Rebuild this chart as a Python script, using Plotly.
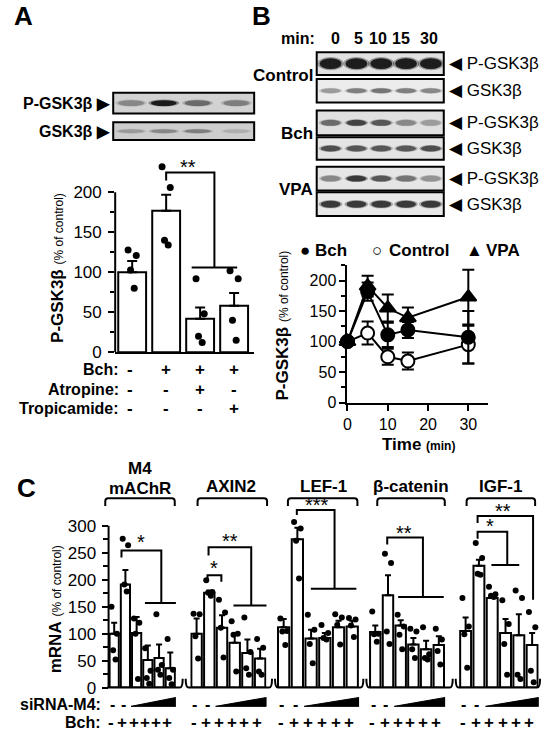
import plotly.graph_objects as go

W, H = 550, 742
FONT = "Arial, 'Liberation Sans', sans-serif"

# ---------------- panel A data
A_BCH = ["-", "+", "+", "+"]
A_ATROPINE = ["-", "-", "+", "-"]
A_TROPICAMIDE = ["-", "-", "-", "+"]
A_MEAN = [100, 177, 42, 58]
A_SEM = [14, 20, 14, 16]
A_DOTS = [[128, 121, 103, 80], [232, 206, 140, 134], [92, 48, 20, 12], [102, 92, 40, 15]]
A_BAND_P = [0.45, 1.0, 0.6, 0.5]
A_BAND_G = [0.35, 0.45, 0.5, 0.25]

# ---------------- panel B data
B_MINUTES = [0, 5, 10, 15, 30]
B_BCH = [100, 182, 111, 119, 107]
B_BCH_SEM = [0, 15, 20, 13, 43]
B_CTRL = [100, 114, 75, 68, 95]
B_CTRL_SEM = [0, 19, 13, 14, 31]
B_VPA = [100, 191, 155, 139, 173]
B_VPA_SEM = [0, 17, 22, 17, 45]
B_CTRL_P_BAND = [1.0, 1.0, 1.0, 1.0, 1.0]
B_CTRL_G_BAND = [0.35, 0.5, 0.55, 0.5, 0.45]
B_BCH_P_BAND = [0.6, 0.8, 0.7, 0.45, 0.35]
B_BCH_G_BAND = [0.75, 0.7, 0.7, 0.7, 0.75]
B_VPA_P_BAND = [0.45, 0.85, 0.7, 0.55, 0.4]
B_VPA_G_BAND = [0.85, 0.85, 0.85, 0.85, 0.85]

# ---------------- panel C data
C_GENES = ["M4<br>mAChR", "AXIN2", "LEF-1", "β-catenin", "IGF-1"]
C_SIRNA = ["-", "-"]
C_BCH = ["-", "+", "+", "+", "+", "+"]

M4_MEAN = [100, 191, 101, 51, 55, 36]
M4_SEM = [20, 27, 30, 27, 25, 29]
M4_DOTS = [[150, 100, 69, 52], [276, 264, 191, 178], [128, 120, 100, 16],
           [73, 31, 18, 7], [136, 42, 33, 24], [90, 33, 18, 6]]
AXIN2_MEAN = [100, 176, 111, 83, 64, 54]
AXIN2_SEM = [28, 4, 23, 16, 25, 18]
AXIN2_DOTS = [[137, 136, 95, 54], [199, 177, 176, 170], [163, 139, 111, 56],
              [123, 100, 98, 30], [130, 66, 36, 24], [90, 74, 30, 24]]
LEF1_MEAN = [112, 275, 91, 92, 112, 113]
LEF1_SEM = [15, 21, 16, 9, 12, 11]
LEF1_DOTS = [[128, 105, 104, 79], [307, 295, 272, 202], [135, 107, 81, 45],
             [116, 101, 92, 89], [136, 130, 116, 80], [129, 126, 115, 94]]
BCAT_MEAN = [103, 171, 115, 80, 71, 79]
BCAT_SEM = [12, 37, 10, 12, 16, 16]
BCAT_DOTS = [[141, 100, 99, 85], [248, 231, 104, 81], [135, 113, 98, 71],
             [109, 104, 71, 55], [112, 62, 55, 52], [109, 89, 68, 43]]
IGF1_MEAN = [105, 226, 166, 101, 97, 79]
IGF1_SEM = [25, 11, 5, 26, 39, 22]
IGF1_DOTS = [[166, 113, 99, 37], [268, 240, 211, 209], [187, 173, 170, 168],
              [162, 118, 81, 24], [180, 166, 24, 16], [140, 112, 31, 10]]

C_MEANS = [M4_MEAN, AXIN2_MEAN, LEF1_MEAN, BCAT_MEAN, IGF1_MEAN]
C_SEMS = [M4_SEM, AXIN2_SEM, LEF1_SEM, BCAT_SEM, IGF1_SEM]
C_DOTS = [M4_DOTS, AXIN2_DOTS, LEF1_DOTS, BCAT_DOTS, IGF1_DOTS]


def px(x):
    return x / W


def py(y):
    return 1 - y / H


def bold(t):
    return "<b>" + t + "</b>"


JITTER = [-0.2, 0.2, -0.08, 0.1]

fig = go.Figure()
shapes = []
notes = []


def note(text, x, y, size=16, xanchor="center", xref="paper", yref="paper", **kw):
    notes.append(dict(text=text, x=x, y=y, xref=xref, yref=yref, showarrow=False,
                      xanchor=xanchor, yanchor="middle", borderpad=0,
                      font=dict(family=FONT, size=size, color="black"), **kw))


def lines(segments, xa, ya):
    xs, ys = [], []
    for seg in segments:
        for p in seg:
            xs.append(p[0])
            ys.append(p[1])
        xs.append(None)
        ys.append(None)
    fig.add_trace(go.Scatter(x=xs, y=ys, mode="lines", xaxis=xa, yaxis=ya,
                             line=dict(color="black", width=2), cliponaxis=False,
                             hoverinfo="skip", showlegend=False))


def bars_with_dots(means, sems, dots, xa, ya, dot_size, cap, spread):
    n = len(means)
    fig.add_trace(go.Bar(x=list(range(n)), y=means, width=0.82, xaxis=xa, yaxis=ya,
                         marker=dict(color="white", line=dict(color="black", width=2)),
                         error_y=dict(type="data", symmetric=False, array=sems,
                                      arrayminus=[0] * n, color="black",
                                      thickness=2, width=cap),
                         showlegend=False))
    xs, ys = [], []
    for i, d in enumerate(dots):
        for k, v in enumerate(d):
            xs.append(i + JITTER[k % 4] * spread)
            ys.append(v)
    fig.add_trace(go.Scatter(x=xs, y=ys, mode="markers", xaxis=xa, yaxis=ya,
                             marker=dict(color="black", size=dot_size),
                             cliponaxis=False, showlegend=False))


def blot(x0, x1, y0, y1, lanes, levels, bw, bh, bg):
    shapes.append(dict(type="rect", xref="paper", yref="paper", x0=px(x0), x1=px(x1),
                       y0=py(y1), y1=py(y0), fillcolor=bg, line_width=0, layer="above"))
    cy = (y0 + y1) / 2
    for cx, lv in zip(lanes, levels):
        g = int(225 - 210 * lv)
        for f, op in ((1.2, 0.35), (1.0, 0.9)):
            shapes.append(dict(type="circle", xref="paper", yref="paper",
                               x0=px(cx - bw * f / 2), x1=px(cx + bw * f / 2),
                               y0=py(cy + bh * f / 2), y1=py(cy - bh * f / 2),
                               fillcolor=f"rgb({g},{g},{g})", opacity=op,
                               line_width=0, layer="above"))
    shapes.append(dict(type="rect", xref="paper", yref="paper", x0=px(x0), x1=px(x1),
                       y0=py(y1), y1=py(y0), line=dict(color="black", width=2),
                       layer="above"))


def y_line(x, top, ya):
    shapes.append(dict(type="line", xref="paper", yref=ya, x0=px(x), x1=px(x),
                       y0=0, y1=top, line=dict(color="black", width=2)))


# ================= panel A
note(bold("A"), px(20), py(16), size=26)
A_LANES = [128, 161, 195, 234]
blot(110, 252, 94, 115, A_LANES, A_BAND_P, 26, 6, "#d2d2d2")
blot(110, 252, 124, 142, A_LANES, A_BAND_G, 26, 4, "#cdcdcd")
note(bold("P-GSK3β ▶"), px(108), py(105), xanchor="right")
note(bold("GSK3β ▶"), px(108), py(133), xanchor="right")

bars_with_dots(A_MEAN, A_SEM, A_DOTS, "x", "y", 7, 5, 0.6)
lines([[(1, 215), (1, 225), (2.42, 225), (2.42, 106)], [(1.75, 106), (3.09, 106)]], "x", "y")
note("**", 1.63, 232, size=20, xref="x", yref="y")
note(bold("P-GSK3β") + " <span style='font-size:12px'>(% of control)</span>",
     px(54), py(272), size=17, textangle=-90)
y_line(112, 200, "y")

for row, (label, vals) in enumerate([("Bch:", A_BCH), ("Atropine:", A_ATROPINE),
                                     ("Tropicamide:", A_TROPICAMIDE)]):
    yy = py(375 + row * 19.5)
    note(bold(label), px(117), yy, xanchor="right")
    for i, v in enumerate(vals):
        note(bold(v), i, yy, xref="x", size=17, xshift=-2 if i == 0 else 0)

# ================= panel B
note(bold("B"), px(259), py(16), size=26)
note(bold("min:"), px(296), py(39))
for t, xx in zip(B_MINUTES, [334, 357, 377, 400, 428]):
    note(bold(str(t)), px(xx), py(39))
B_LANES = [329, 355, 380, 405, 430]
b_rows = [(53, 76, B_CTRL_P_BAND, 11, "#e2e2e2", "P-GSK3β"),
          (80, 104, B_CTRL_G_BAND, 5, "#ececec", "GSK3β"),
          (112, 137, B_BCH_P_BAND, 6, "#e0e0e0", "P-GSK3β"),
          (139, 162, B_BCH_G_BAND, 6, "#e4e4e4", "GSK3β"),
          (169, 193, B_VPA_P_BAND, 6, "#e6e6e6", "P-GSK3β"),
          (195, 219, B_VPA_G_BAND, 7, "#e8e8e8", "GSK3β")]
for y0, y1, lv, bh, bg, lab in b_rows:
    blot(315, 443, y0, y1, B_LANES, lv, 22 if bh > 8 else 20, bh, bg)
    note("◀ " + lab, px(447), py((y0 + y1) / 2), size=17, xanchor="left")
for lab, yy in [("Control", 77), ("Bch", 135), ("VPA", 192)]:
    note(bold(lab), px(312), py(yy), xanchor="right", size=17)

for name, ys, es, sym, fill in [("Control", B_CTRL, B_CTRL_SEM, "circle", "white"),
                                ("Bch", B_BCH, B_BCH_SEM, "circle", "black"),
                                ("VPA", B_VPA, B_VPA_SEM, "triangle-up", "black")]:
    fig.add_trace(go.Scatter(x=B_MINUTES, y=ys, mode="lines+markers", name=name,
                             xaxis="x2", yaxis="y2", cliponaxis=False, showlegend=False,
                             line=dict(color="black", width=2),
                             marker=dict(symbol=sym, size=13 if sym == "circle" else 14,
                                         color=fill, line=dict(color="black", width=2)),
                             error_y=dict(type="data", array=es, color="black",
                                          thickness=2, width=6)))

for sym, xs, lab, xt in [("●", 303, "Bch", 312), ("○", 376, "Control", 387),
                         ("▲", 474, "VPA", 485)]:
    note(sym, px(xs), py(254), size=17)
    note(bold(lab), px(xt), py(254), size=17, xanchor="left")
note(bold("P-GSK3β") + " <span style='font-size:12px'>(% of control)</span>",
     px(281), py(330), size=17, textangle=-90)
note(bold("Time") + " <span style='font-size:12px'><b>(min)</b></span>",
     px(418), py(451), size=17)

# ================= panel C
note(bold("C"), px(23), py(495), size=26)
C_CENTERS = [(111, 11.3), (194, 12.8), (281.7, 13.82), (374, 12.8), (465, 13.4)]
C_TITLE_X = [137, 229, 322, 410, 500]
C_BRACE = [(102, 172), (195, 265), (286, 356), (376, 444), (466, 535)]
C_BASE = [(104, 180), (183, 270), (273, 362), (365, 452), (455, 540)]
BASE_Y = 697

for g in range(5):
    xa = "x%d" % (g + 3)
    bars_with_dots(C_MEANS[g], C_SEMS[g], C_DOTS[g], xa, "y3", 6, 3, 1.2)
    bx0, bx1 = C_BRACE[g]
    t, b = py(505), py(513)
    shapes.append(dict(type="path", xref="paper", yref="paper",
                       path=f"M {px(bx0)},{b} L {px(bx0)},{py(508)} Q {px(bx0)},{t} {px(bx0 + 3)},{t} "
                            f"L {px(bx1 - 3)},{t} Q {px(bx1)},{t} {px(bx1)},{py(508)} L {px(bx1)},{b}",
                       line=dict(color="black", width=2)))
    lx0, lx1 = C_BASE[g]
    yb, yh = py(BASE_Y), py(BASE_Y - 9)
    left = f"M {px(lx0)},{yb}" if g == 0 else \
        f"M {px(lx0)},{yh} Q {px(lx0)},{yb} {px(lx0 + 3)},{yb}"
    shapes.append(dict(type="path", xref="paper", yref="paper",
                       path=left + f" L {px(lx1 - 3)},{yb} Q {px(lx1)},{yb} {px(lx1)},{yh}",
                       line=dict(color="black", width=2)))
    if "<br>" in C_GENES[g]:
        top_line, bottom_line = C_GENES[g].split("<br>")
        note(bold(top_line), px(C_TITLE_X[g]), py(475), size=17)
        note(bold(bottom_line), px(C_TITLE_X[g]), py(495), size=17)
    else:
        note(bold(C_GENES[g]), px(C_TITLE_X[g]), py(493), size=17)
    for i, v in enumerate(C_SIRNA):
        note(bold(v), i, py(714), xref=xa, size=16, xshift=-2)
    shapes.append(dict(type="path", xref=xa, yref="paper",
                       path=f"M 1.5,{py(716)} L 5.5,{py(716)} L 5.5,{py(707)} Z",
                       fillcolor="black", line=dict(color="black", width=1)))
    for i, v in enumerate(C_BCH):
        note(bold(v), i, py(732), xref=xa, size=17, xshift=-3)

note(bold("siRNA-M4:"), px(99), py(714), xanchor="right")
note(bold("Bch:"), px(99), py(732), xanchor="right")
note(bold("mRNA") + " <span style='font-size:12px'>(% of control)</span>",
     px(52), py(618), size=17, textangle=-90)
y_line(105.35, 300, "y3")

# significance marks, panel C (group units, value units)
lines([[(0.65, 241), (0.65, 254), (4.2, 254), (4.2, 157)], [(2.74, 157), (5.66, 157)]], "x3", "y3")
note("*", 2.4, 270, xref="x3", yref="y3", size=20)
lines([[(0.94, 245), (0.94, 260), (4.3, 260), (4.3, 152)], [(2.9, 152), (5.55, 152)],
       [(0.86, 196), (0.86, 208), (1.95, 208), (1.95, 196)]], "x4", "y3")
note("**", 2.66, 272, xref="x4", yref="y3", size=20)
note("*", 1.4, 221, xref="x4", yref="y3", size=20)
lines([[(0.96, 320), (0.96, 329), (3.71, 329), (3.71, 183)], [(1.98, 183), (5.3, 183)]], "x5", "y3")
note("***", 2.41, 338, xref="x5", yref="y3", size=20)
lines([[(0.94, 265), (0.94, 278), (3.75, 278), (3.75, 168)], [(1.8, 168), (5.39, 168)]], "x6", "y3")
note("**", 2.27, 287, xref="x6", yref="y3", size=20)
lines([[(0.9, 305), (0.9, 318), (5.07, 318), (5.07, 163)],
       [(0.9, 276), (0.9, 289), (3.13, 289), (3.13, 227)], [(1.94, 227), (4.03, 227)]], "x7", "y3")
note("**", 2.84, 327, xref="x7", yref="y3", size=20)
note("*", 1.87, 300, xref="x7", yref="y3", size=20)

# ================= axes
axis_common = dict(showgrid=False, zeroline=False, linecolor="black", linewidth=2,
                   tickcolor="black", tickwidth=2,
                   tickfont=dict(family=FONT, size=17, color="black"))
A_TOP = 240   # room above the axis for dots and brackets
C_TOP = 345
layout = dict(
    width=W, height=H, margin=dict(l=0, r=0, t=0, b=0),
    paper_bgcolor="white", plot_bgcolor="white",
    font=dict(family=FONT, color="black"),
    xaxis=dict(domain=[px(112), px(252)], range=[-0.5, 3.59], anchor="y", showline=True,
               ticks="", showticklabels=False, **axis_common),
    yaxis=dict(domain=[py(357), py(357 - 0.81 * A_TOP)], range=[0, A_TOP], anchor="x",
               showline=False, ticks="outside", ticklen=6, tickvals=[0, 50, 100, 150, 200],
               ticklabelstandoff=3,
               minor=dict(tickvals=[25, 75, 125, 175], ticks="outside", ticklen=4,
                          tickwidth=2, tickcolor="black"),
               **axis_common),
    xaxis2=dict(domain=[px(346), px(488)], range=[0, 35], anchor="y2", showline=True,
                ticks="outside", ticklen=6, tickvals=[0, 10, 20, 30], **axis_common),
    yaxis2=dict(domain=[py(408), py(269)], range=[0, 225], anchor="x2", showline=True,
                ticks="outside", ticklen=6, dtick=50,
                minor=dict(dtick=25, ticks="outside", ticklen=4, tickwidth=2, tickcolor="black"),
                **axis_common),
    yaxis3=dict(domain=[py(BASE_Y), py(BASE_Y - 0.547 * C_TOP)], range=[0, C_TOP],
                anchor="x3", showline=False, ticks="outside", ticklen=6,
                tickvals=[0, 50, 100, 150, 200, 250, 300], ticklabelstandoff=2,
                minor=dict(tickvals=[25, 75, 125, 175, 225, 275], ticks="outside",
                           ticklen=5, tickwidth=2, tickcolor="black"),
                **axis_common),
    shapes=shapes, annotations=notes,
)
layout["xaxis2"]["tickfont"] = dict(family=FONT, size=16, color="black")
layout["yaxis2"]["tickfont"] = dict(family=FONT, size=16, color="black")
for g, (c0, s) in enumerate(C_CENTERS):
    layout["xaxis%d" % (g + 3)] = dict(domain=[px(c0 - s / 2), px(c0 + 5.5 * s)],
                                       range=[-0.5, 5.5], anchor="y3", showline=False,
                                       showticklabels=False, ticks="", showgrid=False,
                                       zeroline=False)
fig.update_layout(**layout)

fig.write_html("out.html", config={"displayModeBar": False},
               post_script="document.body.style.margin='0px';document.body.style.overflow='hidden';")
